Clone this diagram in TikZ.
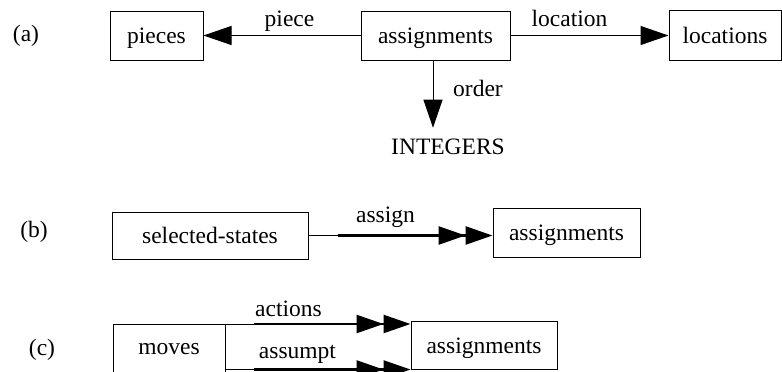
\documentclass[tikz,border=0pt]{standalone}
\usepackage{fontspec}
\setmainfont{Liberation Serif}
\usetikzlibrary{arrows.meta}
\tikzset{
  every node/.style={font=\fontsize{23.5}{28}\selectfont},
  box/.style={draw, line width=1pt, inner sep=0pt, text height=17pt, text depth=1pt},
  lbl/.style={inner sep=0pt},
  conn/.style={line width=1pt},
  heavy/.style={line width=2.5pt},
  bigtip/.style={-{Triangle[length=28pt,width=19pt]}},
  dbltip/.style={-{Triangle[length=27pt,width=18pt,sep=0pt]Triangle[length=27pt,width=18pt,sep=0pt]}},
}
\begin{document}
\begin{tikzpicture}[x=1pt,y=-1pt]
\useasboundingbox (0,0) rectangle (782,372);
\fill[white] (0,0) rectangle (782,372);
\clip (0,0) rectangle (782,372);
% (a)
\node[lbl] (la) at (26,36) {(a)};
\node[box, minimum width=93pt, minimum height=49pt] (pieces) at (156.5,35.5) {pieces};
\node[box, minimum width=149pt, minimum height=49pt] (aa) at (435.5,35.5) {assignments};
\node[box, minimum width=112pt, minimum height=50pt] (loc) at (725,35) {locations};
\node[anchor=base, inner xsep=0pt, inner ysep=10.5pt] (ints) at (448,154) {INTEGERS};
\draw[conn, bigtip] (aa.west) -- (aa.west -| pieces.east);
\draw[conn, bigtip] (aa.east) -- (aa.east -| loc.west);
\draw[conn, bigtip] ([xshift=-2.5pt]aa.south) -- ([xshift=-2.5pt]aa.south |- ints.north);
\node[lbl, anchor=base] (lpiece) at (289.5,26) {piece};
\node[lbl, anchor=base] (lloc) at (569.5,26.5) {location};
\node[lbl, anchor=base] (lorder) at (478,96) {order};
% (b)
\node[lbl] (lb) at (34,232) {(b)};
\node[box, minimum width=196pt, minimum height=47pt] (ss) at (210,235.5) {selected-states};
\node[box, minimum width=147pt, minimum height=49pt] (ab) at (566.5,232.5) {assignments};
\draw[conn] (ss.east) -- ([xshift=29pt]ss.east) coordinate (bmid);
\draw[heavy, dbltip] (bmid) -- (bmid -| ab.west);
\node[lbl, anchor=base] (lassign) at (385.5,222.5) {assign};
% (c)
\node[lbl] (lc) at (42,350) {(c)};
\node[box, minimum width=112pt, minimum height=56pt, anchor=north, text height=17pt, text depth=13pt] (moves) at (169,324) {moves};
\node[box, minimum width=146pt, minimum height=48pt] (ac) at (484,345) {assignments};
\draw[conn] (moves.north east) -- ([xshift=28pt]moves.north east) coordinate (cm1);
\draw[heavy, dbltip] (cm1) -- (cm1 -| ac.west);
\draw[conn] (ac.south west -| moves.east) -- ++(28,0) coordinate (cm2);
\draw[heavy, dbltip] (cm2) -- (ac.south west);
\node[lbl, anchor=base] (lactions) at (288.5,316) {actions};
\node[lbl, anchor=base] (lassumpt) at (297.5,358) {assumpt};
\end{tikzpicture}
\end{document}
